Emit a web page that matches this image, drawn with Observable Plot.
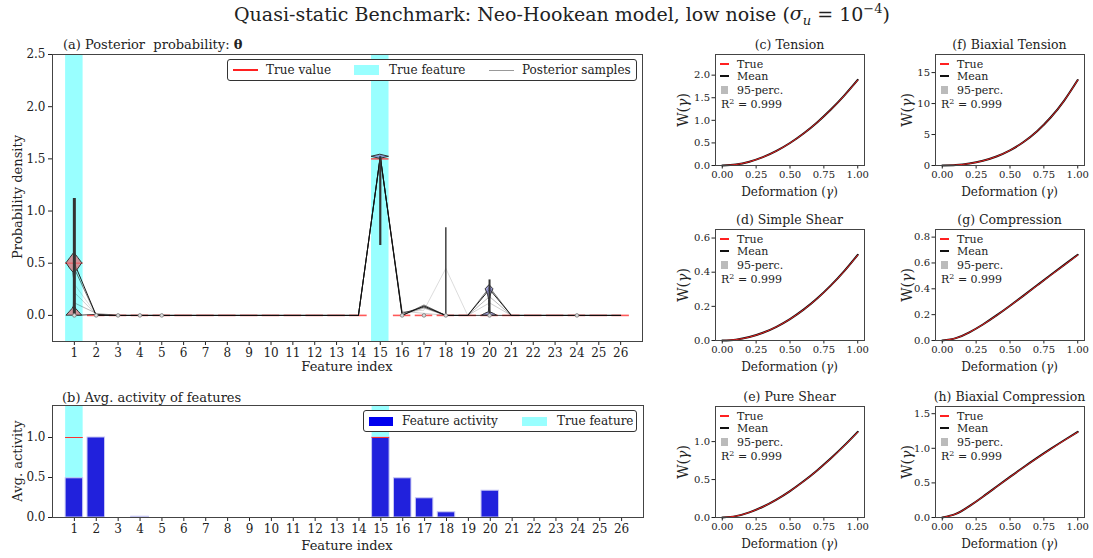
<!DOCTYPE html>
<html><head><meta charset="utf-8">
<script src="https://cdn.jsdelivr.net/npm/d3@7"></script>
<script src="https://cdn.jsdelivr.net/npm/@observablehq/plot@0.6"></script>
<style>
body{margin:0;background:#fff;}
#root{position:relative;width:1093px;height:558px;overflow:hidden;font-family:"DejaVu Serif",serif;color:#222;background:#fff;}
.t{position:absolute;white-space:nowrap;line-height:1;}
.lg{position:absolute;background:#fff;border:1px solid #333;border-radius:3px;box-sizing:border-box;}
.sw{position:absolute;}
#root svg{position:absolute;}
</style></head><body><div id="root"></div>
<script>
// ---------------- data ----------------
const featureIndex = [1,2,3,4,5,6,7,8,9,10,11,12,13,14,15,16,17,18,19,20,21,22,23,24,25,26];
const trueFeatures = [1, 15];
const trueTheta    = [0.5,0,0,0,0,0,0,0,0,0,0,0,0,0,1.5,0,0,0,0,0,0,0,0,0,0,0];
const avgActivity  = [0.49,1.0,0,0.01,0,0,0,0,0,0,0,0,0,0,1.0,0.49,0.24,0.065,0,0.335,0,0,0,0,0,0];
const trueActivity = [1,0,0,0,0,0,0,0,0,0,0,0,0,0,1,0,0,0,0,0,0,0,0,0,0,0];

// posterior samples of theta (one value per feature)
const sampleA = [0.50,0.00,0,0,0,0,0,0,0,0,0,0,0,0,1.52,0.00,0.09,0.00,0.00,0.25,0,0,0,0,0,0];
const sampleB = [0.00,0.01,0,0,0,0,0,0,0,0,0,0,0,0,1.52,0.02,0.08,0.00,0.00,0.00,0,0,0,0,0,0];
const sampleC = [0.30,0.01,0,0,0,0,0,0,0,0,0,0,0,0,1.51,0.03,0.05,0.45,0.00,0.00,0,0,0,0,0,0];
const sampleD = [0.45,0.00,0,0,0,0,0,0,0,0,0,0,0,0,1.53,0.00,0.10,0.00,0.00,0.27,0,0,0,0,0,0];
const sampleE = [0.12,0.02,0,0,0,0,0,0,0,0,0,0,0,0,1.52,0.01,0.07,0.00,0.00,0.18,0,0,0,0,0,0];
const sampleF = [0.22,0.01,0,0,0,0,0,0,0,0,0,0,0,0,1.52,0.04,0.02,0.00,0.00,0.12,0,0,0,0,0,0];
const sampleOpacity = [0.95, 0.75, 0.15, 0.55, 0.3, 0.2];

// violin profiles (theta value, half-width in feature units)
const violin1Theta = [0, 0.03, 0.06, 0.085, 0.15, 0.25, 0.35, 0.41, 0.45, 0.50, 0.55, 0.60];
const violin1Half  = [0.35, 0.22, 0.09, 0.02, 0.015, 0.015, 0.015, 0.04, 0.2, 0.36, 0.18, 0];
const violin15Theta = [1.50, 1.52, 1.54];
const violin15Half  = [0.0, 0.4, 0.0];
const violin20Theta = [0, 0.015, 0.03, 0.08, 0.15, 0.2, 0.25, 0.29];
const violin20Half  = [0.33, 0.2, 0.03, 0.015, 0.02, 0.07, 0.18, 0];
const extremaFeature = [1, 15, 18, 20];
const extremaLow  = [0, 0.67, 0, 0];
const extremaHigh = [1.12, 1.52, 0.84, 0.34];
const extremaWidth = [3, 2.2, 1.4, 2];
const zeroMarkers = [1,2,3,4,5,16,17,18,20,24];

// hyperelastic energy W(gamma): true and posterior mean
const gammaPts = [0,0.1,0.2,0.3,0.4,0.5,0.6,0.7,0.8,0.9,1.0];
const wTension         = [0,0.0212,0.0831,0.1839,0.3222,0.4967,0.7067,0.9515,1.2306,1.5435,1.8899];
const wTensionMean     = [0,0.0213,0.0833,0.1842,0.3228,0.4975,0.7080,0.9535,1.2333,1.5470,1.8945];
const wSimpleShear     = [0,0.005,0.02,0.045,0.08,0.125,0.18,0.245,0.32,0.405,0.5];
const wSimpleShearMean = [0,0.005,0.0201,0.0452,0.0803,0.1255,0.1807,0.2459,0.3212,0.4065,0.5018];
const wPureShear       = [0,0.0182,0.0672,0.1409,0.2351,0.3472,0.4753,0.6180,0.7743,0.9435,1.125];
const wPureShearMean   = [0,0.0183,0.0674,0.1414,0.2359,0.3483,0.4768,0.6200,0.7768,0.9466,1.1288];
const wBiaxTension     = [0,0.0721,0.3118,0.7577,1.4532,2.4452,3.7856,5.529,7.7345,10.4647,13.786];
const wBiaxTensionMean = [0,0.0722,0.3122,0.7588,1.4552,2.4487,3.7910,5.537,7.7455,10.4797,13.806];
const wCompression     = [0,0.0183,0.0630,0.1234,0.1931,0.2682,0.3461,0.4252,0.5044,0.5830,0.6608];
const wCompressionMean = [0,0.0184,0.0633,0.1240,0.1940,0.2694,0.3476,0.4270,0.5065,0.5854,0.6635];
const wBiaxComp        = [0,0.0514,0.1632,0.2990,0.4420,0.5846,0.7237,0.8581,0.9876,1.1125,1.2336];
const wBiaxCompMean    = [0,0.0516,0.1638,0.3001,0.4436,0.5867,0.7263,0.8611,0.9910,1.1163,1.2378];

// ---------------- helpers ----------------
const root = document.getElementById("root");
const FONT = '"DejaVu Serif", serif';
function text(html, x, y, {size = 12, anchor = "start", rotate = false} = {}) {
  const d = document.createElement("div");
  d.className = "t";
  d.innerHTML = html;
  d.style.fontSize = size + "px";
  d.style.left = x + "px";
  d.style.top = y + "px";
  const tx = anchor === "middle" ? "-50%" : anchor === "end" ? "-100%" : "0";
  d.style.transform = rotate ? "translate(-50%,-50%) rotate(-90deg)" : `translate(${tx},-50%)`;
  root.appendChild(d);
  return d;
}
function swatch(x, y, w, h, color, parent = root) {
  const d = document.createElement("div");
  d.className = "sw";
  d.style.left = x + "px"; d.style.top = (y - h / 2) + "px";
  d.style.width = w + "px"; d.style.height = h + "px";
  d.style.background = color;
  parent.appendChild(d);
  return d;
}
function place(svg, left, top) {
  svg.style.left = left + "px";
  svg.style.top = top + "px";
  root.appendChild(svg);
}
const baseStyle = (fs) => ({fontFamily: FONT, fontSize: fs, background: "transparent", color: "#222", overflow: "visible"});

// ---------------- title ----------------
text('Quasi-static Benchmark: Neo-Hookean model, low noise (<i>σ<sub style="font-size:13px">u</sub></i> = 10<sup style="font-size:13px">−4</sup>)', 562, 15, {size: 19, anchor: "middle"});

// ---------------- panel (a) ----------------
const samples = [sampleA, sampleB, sampleC, sampleD, sampleE, sampleF];
const trueRows = featureIndex.map((f, i) => ({f, v: trueTheta[i]}));
const violinRows = (f, th, hw) => th.map((v, i) => ({f, v, h: hw[i]}));
const extremaRows = extremaFeature.map((f, i) => ({f, lo: extremaLow[i], hi: extremaHigh[i], w: extremaWidth[i]}));

const violinMark = (rows, fill) => Plot.areaX(rows, {
  y: "v", x1: d => d.f - d.h, x2: d => d.f + d.h,
  fill, fillOpacity: 0.75, stroke: "#333", strokeWidth: 1
});

const svgA = Plot.plot({
  width: 650, height: 375,
  marginLeft: 52, marginRight: 8, marginTop: 54, marginBottom: 34,
  style: baseStyle("12px"),
  x: {domain: [0, 27], ticks: featureIndex, tickFormat: d3.format("d"), tickSize: 4, tickPadding: 3, label: null},
  y: {domain: [-0.25, 2.5], ticks: [0, 0.5, 1, 1.5, 2, 2.5], tickFormat: d3.format(".1f"), tickSize: 4, tickPadding: 3, label: null},
  marks: [
    Plot.rect(trueFeatures, {x1: d => d - 0.4, x2: d => d + 0.4, fill: "#99ffff"}),
    Plot.ruleY(trueRows, {y: "v", x1: d => d.f - 0.4, x2: d => d.f + 0.4, stroke: "#ff3030", strokeWidth: 1.6, strokeOpacity: 0.8}),
    ...samples.map((s, k) => Plot.line(s.map((v, i) => ({f: featureIndex[i], v})), {
      x: "f", y: "v", stroke: "#111", strokeOpacity: sampleOpacity[k], strokeWidth: 1
    })),
    violinMark(violinRows(1, violin1Theta, violin1Half), "#e0707a"),
    violinMark(violinRows(15, violin15Theta, violin15Half), "#8080c8"),
    violinMark(violinRows(20, violin20Theta, violin20Half), "#8080c8"),
    ...extremaRows.map(r => Plot.ruleX([r], {x: "f", y1: "lo", y2: "hi", stroke: "#333", strokeWidth: r.w})),
    Plot.dot(zeroMarkers, {x: d => d, y: () => 0, r: 1.8, fill: "#ddd", stroke: "#777", strokeWidth: 0.8}),
    Plot.frame({stroke: "#444"})
  ]
});
place(svgA, 0, 0);
text('(a) Posterior &nbsp;probability: <b>θ</b>', 63, 44, {size: 13});
text('Probability density', 17, 197, {size: 13, rotate: true});
text('Feature index', 347, 366, {size: 13, anchor: "middle"});

// legend (a)
{
  const lg = document.createElement("div");
  lg.className = "lg";
  lg.style.left = "227px"; lg.style.top = "59px"; lg.style.width = "410px"; lg.style.height = "22px";
  root.appendChild(lg);
  swatch(5, 10, 25, 2, "#ff2020", lg);
  const t1 = document.createElement("div"); t1.className = "t"; t1.style.cssText = "left:38px;top:10px;transform:translateY(-50%);font-size:12px"; t1.textContent = "True value"; lg.appendChild(t1);
  swatch(126, 10, 25, 10, "#99ffff", lg);
  const t2 = document.createElement("div"); t2.className = "t"; t2.style.cssText = "left:161px;top:10px;transform:translateY(-50%);font-size:12px"; t2.textContent = "True feature"; lg.appendChild(t2);
  swatch(261, 10, 25, 1, "#999", lg);
  const t3 = document.createElement("div"); t3.className = "t"; t3.style.cssText = "left:294px;top:10px;transform:translateY(-50%);font-size:12px"; t3.textContent = "Posterior samples"; lg.appendChild(t3);
}

// ---------------- panel (b) ----------------
const activityRows = featureIndex.map((f, i) => ({f, v: avgActivity[i]}));
const trueActRows = featureIndex.map((f, i) => ({f, v: trueActivity[i]}));
const svgB = Plot.plot({
  width: 651, height: 177,
  marginLeft: 52, marginRight: 8, marginTop: 25, marginBottom: 40,
  style: baseStyle("12px"),
  x: {domain: [0, 27], ticks: featureIndex, tickFormat: d3.format("d"), tickSize: 4, tickPadding: 3, label: null},
  y: {domain: [0, 1.4], ticks: [0, 0.5, 1], tickFormat: d3.format(".1f"), tickSize: 4, tickPadding: 3, label: null},
  marks: [
    Plot.rect(trueFeatures, {x1: d => d - 0.4, x2: d => d + 0.4, fill: "#99ffff"}),
    Plot.ruleY(trueActRows, {y: "v", x1: d => d.f - 0.4, x2: d => d.f + 0.4, stroke: "#ff4040", strokeWidth: 1, strokeOpacity: 0.6}),
    Plot.rectY(activityRows.filter(d => d.v > 0), {x1: d => d.f - 0.4, x2: d => d.f + 0.4, y: "v", fill: "#2121dc", stroke: "#c8c8f4", strokeWidth: 1}),
    Plot.ruleY(trueActRows.filter(d => d.v > 0), {y: "v", x1: d => d.f - 0.4, x2: d => d.f + 0.4, stroke: "#ff3030", strokeWidth: 1}),
    Plot.frame({stroke: "#444"})
  ]
});
place(svgB, 0, 380);
text('(b) Avg. activity of features', 62, 397, {size: 13});
text('Avg. activity', 17, 461, {size: 13, rotate: true});
text('Feature index', 347, 545, {size: 13, anchor: "middle"});
{
  const lg = document.createElement("div");
  lg.className = "lg";
  lg.style.left = "363px"; lg.style.top = "410px"; lg.style.width = "274px"; lg.style.height = "22px";
  root.appendChild(lg);
  swatch(5, 10, 24, 9, "#0000ee", lg);
  const t1 = document.createElement("div"); t1.className = "t"; t1.style.cssText = "left:38px;top:10px;transform:translateY(-50%);font-size:12px"; t1.textContent = "Feature activity"; lg.appendChild(t1);
  swatch(158, 10, 25, 9, "#99ffff", lg);
  const t2 = document.createElement("div"); t2.className = "t"; t2.style.cssText = "left:193px;top:10px;transform:translateY(-50%);font-size:12px"; t2.textContent = "True feature"; lg.appendChild(t2);
}

// ---------------- small panels ----------------
function smallPanel({left, top, title, yMax, yTicks, yFmt, trueW, meanW, ylabX}) {
  const rows = gammaPts.map((g, i) => ({g, t: trueW[i], m: meanW[i]}));
  const svg = Plot.plot({
    width: 149 + 46, height: 111 + 30,
    marginLeft: 40, marginRight: 6, marginTop: 6, marginBottom: 24,
    style: baseStyle("10px"),
    x: {domain: [-0.05, 1.05], ticks: [0, 0.25, 0.5, 0.75, 1], tickFormat: d3.format(".2f"), tickSize: 3.5, tickPadding: 2, label: null},
    y: {domain: [0, yMax], ticks: yTicks, tickFormat: yFmt, tickSize: 3.5, tickPadding: 2, label: null},
    marks: [
      Plot.line(rows, {x: "g", y: "m", stroke: "#111", strokeWidth: 2, curve: "natural"}),
      Plot.line(rows, {x: "g", y: "t", stroke: "#ff2020", strokeWidth: 0.9, curve: "natural"}),
      Plot.frame({stroke: "#444"})
    ]
  });
  place(svg, left - 40, top - 6);
  text(title, left + 74.5, top - 9.5, {size: 12.5, anchor: "middle"});
  text('Deformation (<i>γ</i>)', left + 74.5, top + 137.5, {size: 12, anchor: "middle"});
  text('W(<i>γ</i>)', ylabX, top + 55.5, {size: 14, rotate: true});
  swatch(left + 5, top + 10, 9, 1.6, "#ff2020");
  text('True', left + 22, top + 10, {size: 11});
  swatch(left + 5, top + 22, 9, 1.6, "#111");
  text('Mean', left + 22, top + 22, {size: 11});
  swatch(left + 6, top + 35.5, 7, 8, "#bbb");
  text('95-perc.', left + 22, top + 35.5, {size: 11});
  text('R<sup style="font-size:8px">2</sup> = 0.999', left + 6, top + 50, {size: 11});
}
const f1 = d3.format(".1f");
const f0 = d3.format("d");
smallPanel({left: 715, top: 54, title: "(c) Tension", yMax: 2.457, yTicks: [0, 0.5, 1, 1.5, 2], yFmt: f1, trueW: wTension, meanW: wTensionMean, ylabX: 683});
smallPanel({left: 715, top: 229, title: "(d) Simple Shear", yMax: 0.65, yTicks: [0, 0.2, 0.4, 0.6], yFmt: f1, trueW: wSimpleShear, meanW: wSimpleShearMean, ylabX: 683});
smallPanel({left: 715, top: 406, title: "(e) Pure Shear", yMax: 1.4625, yTicks: [0, 0.5, 1], yFmt: f1, trueW: wPureShear, meanW: wPureShearMean, ylabX: 683});
smallPanel({left: 935, top: 54, title: "(f) Biaxial Tension", yMax: 17.92, yTicks: [0, 5, 10, 15], yFmt: f0, trueW: wBiaxTension, meanW: wBiaxTensionMean, ylabX: 907});
smallPanel({left: 935, top: 229, title: "(g) Compression", yMax: 0.859, yTicks: [0, 0.2, 0.4, 0.6, 0.8], yFmt: f1, trueW: wCompression, meanW: wCompressionMean, ylabX: 907});
smallPanel({left: 935, top: 406, title: "(h) Biaxial Compression", yMax: 1.604, yTicks: [0, 0.5, 1, 1.5], yFmt: f1, trueW: wBiaxComp, meanW: wBiaxCompMean, ylabX: 907});
</script></body></html>
